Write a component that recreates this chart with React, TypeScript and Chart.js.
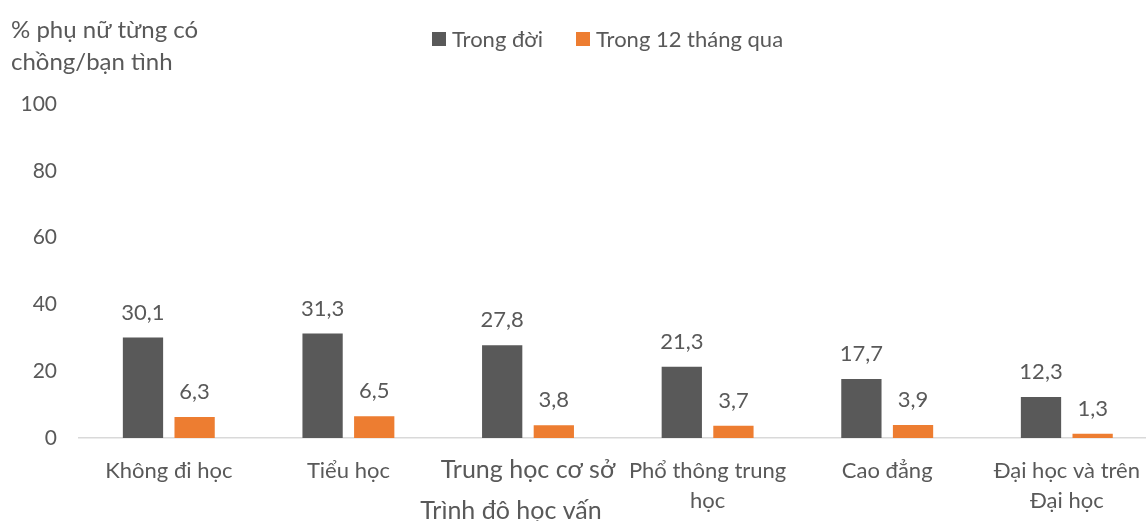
import React, { useEffect, useRef } from "react";
import { Chart, registerables } from "chart.js";

Chart.register(...registerables);

const categories: (string | string[])[] = [
  "Không đi học",
  "Tiểu học",
  "Trung học cơ sở",
  ["Phổ thông trung", "học"],
  "Cao đẳng",
  ["Đại học và trên", "Đại học"],
];
const lifetime = [30.1, 31.3, 27.8, 21.3, 17.7, 12.3];
const last12 = [6.3, 6.5, 3.8, 3.7, 3.9, 1.3];
const seriesNames = ["Trong đời", "Trong 12 tháng qua"];
const yTitle = ["% phụ nữ từng có", "chồng/bạn tình"];
const xTitle = "Trình đô học vấn";
const yTicks = { min: 0, max: 100, step: 20 };

const DARK = "#595959";
const ORANGE = "#ED7D31";
const TEXT = "#595959";
const FONT = "Lato, 'Open Sans', sans-serif";

const fmt = (v: number) => v.toFixed(1).replace(".", ",");

const decorPlugin = {
  id: "decor",
  afterDatasetsDraw(chart: any) {
    const ctx = chart.ctx;
    ctx.save();
    ctx.fillStyle = TEXT;
    ctx.font = `22px ${FONT}`;
    ctx.textAlign = "center";
    ctx.textBaseline = "middle";
    chart.data.datasets.forEach((ds: any, di: number) => {
      const meta = chart.getDatasetMeta(di);
      meta.data.forEach((el: any, i: number) => {
        ctx.fillText(fmt(ds.data[i]), el.x, el.y - 25);
      });
    });
    ctx.restore();
  },
  afterDraw(chart: any) {
    const ctx = chart.ctx;
    ctx.save();
    ctx.fillStyle = TEXT;
    ctx.textBaseline = "middle";
    ctx.textAlign = "left";
    ctx.font = `24px ${FONT}`;
    ctx.fillText(yTitle[0], 11, 30);
    ctx.fillText(yTitle[1], 11, 62);
    // x title
    ctx.textAlign = "center";
    ctx.font = `25px ${FONT}`;
    ctx.fillText(xTitle, 511, 511);
    // legend
    ctx.font = `22px ${FONT}`;
    ctx.textAlign = "left";
    const items = [
      { x: 432, color: DARK, label: seriesNames[0] },
      { x: 576, color: ORANGE, label: seriesNames[1] },
    ];
    items.forEach((it) => {
      ctx.fillStyle = it.color;
      ctx.fillRect(it.x, 32, 14, 14);
      ctx.fillStyle = TEXT;
      ctx.fillText(it.label, it.x + 20, 40);
    });
    ctx.restore();
  },
};

export default function App() {
  const ref = useRef<HTMLCanvasElement>(null);
  useEffect(() => {
    if (!ref.current) return;
    const chart = new Chart(ref.current, {
      type: "bar",
      data: {
        labels: categories,
        datasets: [
          {
            label: seriesNames[0],
            data: lifetime,
            backgroundColor: DARK,
            categoryPercentage: 0.575,
            barPercentage: 0.78,
          },
          {
            label: seriesNames[1],
            data: last12,
            backgroundColor: ORANGE,
            categoryPercentage: 0.575,
            barPercentage: 0.78,
          },
        ],
      },
      options: {
        animation: false,
        responsive: false,
        layout: { padding: { top: 104, left: 0, right: 0, bottom: 0 } },
        plugins: {
          legend: { display: false },
          tooltip: { enabled: false },
          title: { display: false },
        },
        scales: {
          x: {
            grid: { display: false, drawTicks: false },
            border: { display: true, color: "#D9D9D9", width: 1.5 },
            ticks: {
              color: TEXT,
              padding: 18,
              maxRotation: 0,
              autoSkip: false,
              font: (c: any) =>
                c.index === 2
                  ? { family: FONT, size: 25, lineHeight: 1.1 }
                  : { family: FONT, size: 22, lineHeight: 1.36 },
            },
            afterFit(scale: any) {
              scale.height = 83;
            },
          },
          y: {
            min: yTicks.min,
            max: yTicks.max,
            grid: { display: false, drawTicks: false },
            border: { display: false },
            ticks: {
              stepSize: yTicks.step,
              color: TEXT,
              padding: 22,
              font: { family: FONT, size: 21 },
            },
            afterFit(scale: any) {
              scale.width = 79;
            },
          },
        },
      },
      plugins: [decorPlugin],
    });
    return () => chart.destroy();
  }, []);
  return (
    <div
      style={{
        position: "absolute",
        left: 0,
        top: 0,
        width: 1146,
        height: 521,
        overflow: "hidden",
        background: "#fff",
      }}
    >
      <canvas ref={ref} width={1158} height={521} style={{ display: "block" }} />
    </div>
  );
}
